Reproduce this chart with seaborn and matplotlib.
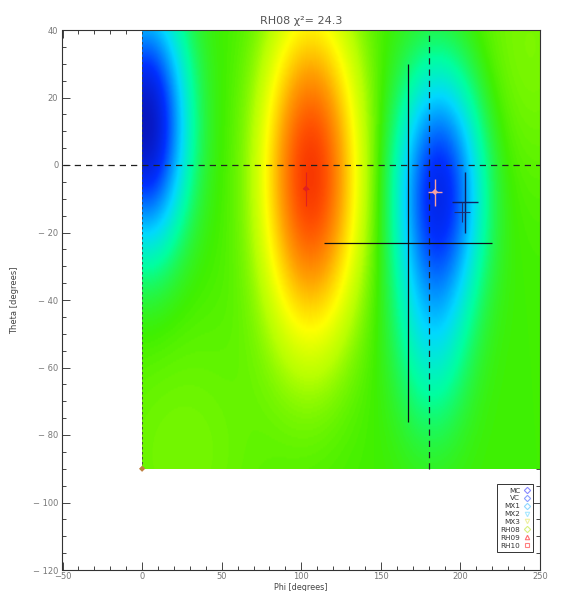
import numpy as np
import matplotlib
matplotlib.use("Agg")
import matplotlib.pyplot as plt
from matplotlib.colors import LinearSegmentedColormap
from matplotlib.lines import Line2D
from matplotlib.ticker import MultipleLocator
import seaborn as sns
import pandas as pd

# ---------------- data ----------------
title_text = "RH08 \u03c7\u00b2= 24.3"
phi_range = [0, 250]
theta_range = [-90, 40]

# field model: blobs (phi centre, theta centre, sigma phi, sigma theta, amplitude)
blob_phi = [2, 106, 187, 182, 242, 25]
blob_theta = [12, -3, -7, -50, 35, -85]
blob_sphi = [17, 20, 18, 16, 30, 40]
blob_stheta = [24, 32, 24, 22, 30, 30]
blob_amp = [-0.50, 0.44, -0.40, -0.12, 0.04, 0.035]
field_base = 0.5

# points with error bars
pt_name = ["big", "RH09", "RH10", "d1", "d2", "corner"]
pt_phi = [167, 103, 184, 203, 201, 0]
pt_theta = [-23, -7, -8, -11, -14, -90]
pt_xerr = [53, 2, 4.5, 8, 5, 0]
pt_yerr = [53, 5, 4, 9, 3, 0]

legend_labels = ["MC", "VC", "MX1", "MX2", "MX3", "RH08", "RH09", "RH10"]
legend_markers = ["D", "D", "D", "v", "v", "D", "^", "s"]
legend_colors = ["#8a8aff", "#8aa0ff", "#90d8ff", "#a8e8ff", "#f0f0a0", "#d8f080", "#ff7070", "#ff8080"]

x_ticks = [-50, 0, 50, 100, 150, 200, 250]
y_ticks = [40, 20, 0, -20, -40, -60, -80, -100, -120]

# ---------------- style ----------------
sns.set_theme(style="ticks")
plt.rcParams["font.family"] = ["DejaVu Sans"]

fig = plt.figure(figsize=(5.66, 5.91), dpi=100)
ax = fig.add_axes([62.5 / 566, 1 - 570 / 591, 477.5 / 566, 540 / 591])
ax.set_facecolor("white")

# colour map (IDL-like rainbow)
cmap = LinearSegmentedColormap.from_list(
    "idl",
    [(0.00, "#0818c0"), (0.12, "#0030ff"), (0.30, "#00d8ff"), (0.40, "#00ffa0"),
     (0.50, "#40f000"), (0.58, "#b8ff00"), (0.66, "#ffff00"), (0.78, "#ffa000"),
     (0.90, "#ff5000"), (1.00, "#f01800")])

phi = np.linspace(phi_range[0], phi_range[1], 501)
theta = np.linspace(theta_range[0], theta_range[1], 261)
P, T = np.meshgrid(phi, theta)
Z = np.full_like(P, field_base)
for cp, ct, sp, st, a in zip(blob_phi, blob_theta, blob_sphi, blob_stheta, blob_amp):
    Z += a * np.exp(-0.5 * (((P - cp) / sp) ** 2 + ((T - ct) / st) ** 2))
Z = np.clip(Z, 0, 1)

ax.imshow(Z, extent=[phi_range[0], phi_range[1], theta_range[0], theta_range[1]],
          origin="lower", aspect="auto", cmap=cmap, vmin=0, vmax=1,
          interpolation="bilinear", zorder=1)

# dashed reference lines
ax.plot([-50, 250], [0, 0], ls=(0, (5, 4)), color="#202020", lw=0.9, zorder=3)
ax.plot([180, 180], [theta_range[0], theta_range[1]], ls=(0, (5, 4)), color="#202020", lw=0.9, zorder=3)
ax.plot([0, 0], [theta_range[0], theta_range[1]], ls=(0, (3, 3)), color="#404040", lw=0.6, zorder=3)

# error bars
pt_colors = ["#101010", "#e02020", "#f5a0a0", "#102060", "#203070", "#c08040"]
pt_lw = [0.9, 0.8, 1.0, 1.0, 0.8, 0.8]
for i in range(len(pt_name)):
    if pt_xerr[i] > 0 or pt_yerr[i] > 0:
        ax.errorbar(pt_phi[i], pt_theta[i], xerr=pt_xerr[i], yerr=pt_yerr[i],
                    fmt="none", ecolor=pt_colors[i], elinewidth=pt_lw[i], capsize=0, zorder=4)
df = pd.DataFrame({"phi": pt_phi, "theta": pt_theta, "name": pt_name})
sns.scatterplot(data=df.iloc[[1, 2, 5]], x="phi", y="theta", hue="name",
                palette={"RH09": "#e02020", "RH10": "#f5a0a0", "corner": "#c08040"},
                marker="D", s=10, edgecolor="none", legend=False, ax=ax, zorder=5, clip_on=False)

# axes
ax.set_xlim(-50, 250)
ax.set_ylim(-120, 40)
ax.set_xticks(x_ticks)
ax.set_yticks(y_ticks)
ax.set_xticklabels([("\u2212" + str(-t)) if t < 0 else str(t) for t in x_ticks])
ax.set_yticklabels([("\u2212 " + str(-t)) if t < 0 else str(t) for t in y_ticks])
ax.xaxis.set_minor_locator(MultipleLocator(10))
ax.yaxis.set_minor_locator(MultipleLocator(5))
ax.tick_params(which="both", direction="in", top=True, right=True, colors="#444444",
               labelcolor="#777777", labelsize=6, width=0.7)
ax.tick_params(which="major", length=6)
ax.tick_params(axis="x", which="major", pad=1.5)
ax.tick_params(axis="y", which="major", pad=3)
ax.tick_params(which="minor", length=3)
for s in ax.spines.values():
    s.set_color("#333333")
    s.set_linewidth(0.8)
ax.set_xlabel("Phi [degrees]", fontsize=5.8, color="#444444", labelpad=0)
ax.set_ylabel("Theta [degrees]", fontsize=6, color="#444444", labelpad=12)
ax.xaxis.set_label_coords(0.5, -0.024)
ax.yaxis.set_label_coords(-0.09, 0.5)
ax.set_title(title_text, fontsize=8, color="#555555", pad=4)

# legend
handles = [Line2D([], [], ls="none", marker=m, markersize=3.2, markerfacecolor="none",
                  markeredgecolor=c, markeredgewidth=0.8)
           for m, c in zip(legend_markers, legend_colors)]
leg = ax.legend(handles, legend_labels, loc="lower right", bbox_to_anchor=(0.986, 0.033),
                fontsize=5.2, markerfirst=False, frameon=True, fancybox=False,
                handlelength=0.8, handletextpad=0.5, labelspacing=0.25, borderpad=0.5,
                borderaxespad=0)
leg.get_frame().set_edgecolor("#333333")
leg.get_frame().set_linewidth(0.7)
leg.get_frame().set_alpha(1)
for t in leg.get_texts():
    t.set_ha("right")
    t.set_color("#333333")

fig.savefig("out.png", dpi=100)
